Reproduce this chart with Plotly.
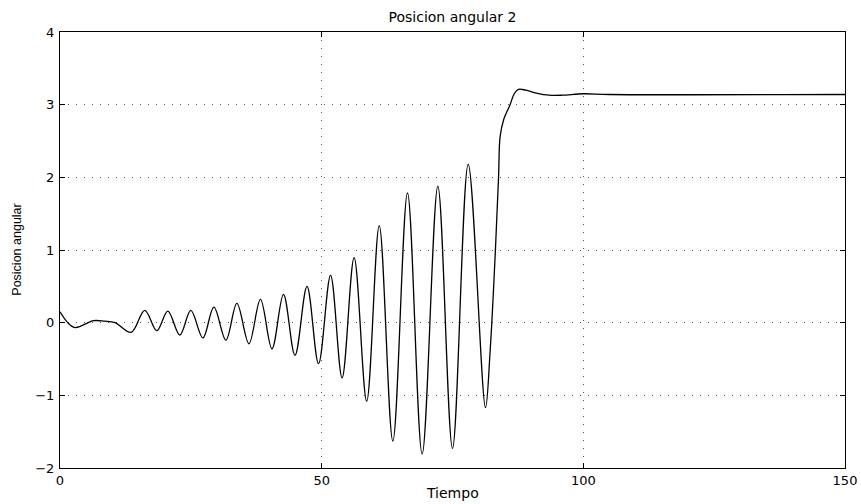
import plotly.graph_objects as go

# Values (time, angular position)
tiempo = [0.0, 2.7, 6.4, 8.5, 10.5, 13.6, 16.2, 18.5, 20.6, 22.9, 25.0, 27.3, 29.4,
          31.7, 33.8, 36.1, 38.3, 40.5, 42.7, 44.9, 47.2, 49.4, 51.7, 53.9, 56.2,
          58.6, 61.0, 63.6, 66.4, 69.2, 72.2, 75.0, 78.0, 81.3, 82.2, 83.2, 83.8,
          84.1, 84.8, 86.0, 86.8, 87.6, 89.0, 91.0, 93.5, 96.0, 100.0, 105.0, 150.0]
posicion = [0.15, -0.065, 0.027, 0.02, 0.0, -0.133, 0.17, -0.11, 0.16, -0.17, 0.17, -0.21, 0.215,
            -0.24, 0.265, -0.29, 0.32, -0.36, 0.39, -0.45, 0.50, -0.565, 0.65, -0.76, 0.895,
            -1.08, 1.335, -1.63, 1.785, -1.81, 1.877, -1.73, 2.18, -1.17, -0.38, 1.0, 2.0,
            2.56, 2.8, 3.0, 3.15, 3.21, 3.2, 3.16, 3.13, 3.13, 3.15, 3.14, 3.14]

x_ticks = [0, 50, 100, 150]
y_ticks = [-2, -1, 0, 1, 2, 3, 4]

WIDE = "DejaVu Sans, Verdana, sans-serif"
NARROW = "Liberation Sans, Arial, Helvetica, sans-serif"

fig = go.Figure()
fig.add_trace(go.Scatter(
    x=tiempo, y=posicion, mode="lines",
    line=dict(color="black", width=1.3, shape="spline", smoothing=1.0),
    showlegend=False,
))

axis_common = dict(
    ticks="inside", ticklen=5, tickcolor="black", tickwidth=1,
    showline=True, linecolor="black", linewidth=1, mirror="ticks",
    showgrid=True, gridcolor="#555555", gridwidth=1, griddash="1px,7px",
    zeroline=False,
    tickfont=dict(family=WIDE, size=13, color="black"),
)

fig.update_xaxes(range=[0, 150], tickvals=x_ticks, **axis_common)
fig.update_yaxes(range=[-2, 4], tickvals=y_ticks, ticklabelstandoff=2, **axis_common)

fig.update_layout(
    width=861, height=504,
    margin=dict(l=60, r=16, t=32, b=36, autoexpand=False),
    paper_bgcolor="white", plot_bgcolor="white",
    font=dict(family=WIDE, size=13, color="black"),
    title=dict(text="Posicion angular 2", x=0.5, xref="paper", xanchor="center",
               y=1 - 17.5 / 504, yref="container", yanchor="middle",
               font=dict(family=WIDE, size=14, color="black")),
    annotations=[
        dict(text="Tiempo", xref="paper", yref="paper", x=0.5, y=(468 - 493) / 436,
             xanchor="center", yanchor="middle", showarrow=False,
             font=dict(family=WIDE, size=14, color="black")),
        dict(text="Posicion angular", xref="paper", yref="paper",
             x=(16.7 - 60) / 785, y=0.5, textangle=-90,
             xanchor="center", yanchor="middle", showarrow=False,
             font=dict(family=NARROW, size=12.5, color="black")),
    ],
)

fig.write_html("out.html",
               config={"displayModeBar": False},
               post_script="document.body.style.margin='0';document.body.style.overflow='hidden';")
